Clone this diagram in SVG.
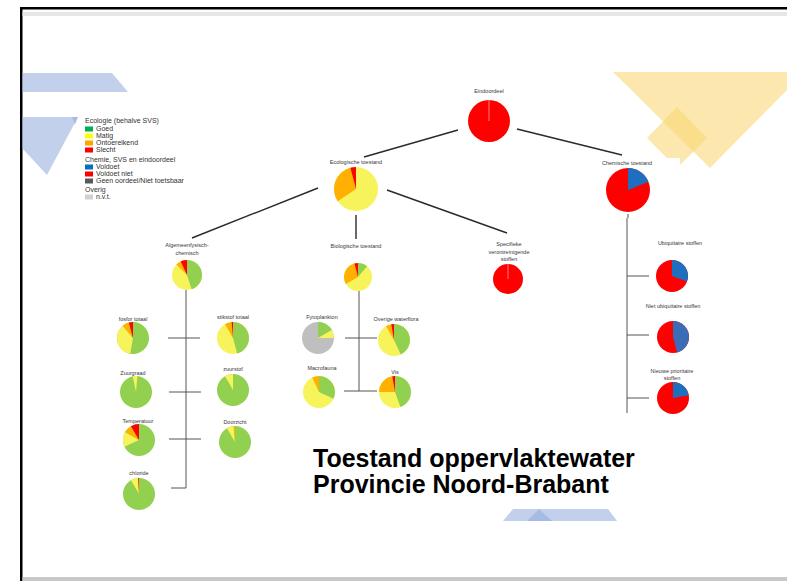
<svg xmlns="http://www.w3.org/2000/svg" width="787" height="581" viewBox="0 0 787 581">
<style>
.lbl{font-family:"Liberation Sans",Arial,sans-serif;font-size:5.5px;fill:#383838;text-anchor:middle}
.leg{font-family:"Liberation Sans",Arial,sans-serif;font-size:7px;fill:#333}
.title{font-family:"Liberation Sans",Arial,sans-serif;font-size:25px;font-weight:bold;fill:#000}
.diag{stroke:#2a2a2a;stroke-width:1.4;fill:none}
.tree{stroke:#555;stroke-width:1;fill:none}
.g{fill:#92D050}.y{fill:#F7F35A}.o{fill:#FFB000}.r{fill:#FF0000}.b{fill:#1F6FC0}.gr{fill:#BFBFBF}
.sep{stroke:#F7B6B6;stroke-width:0.7}
.bl{fill:#8FA9DC;opacity:0.55}.ye{fill:#F9D56E;opacity:0.55}
</style>
<rect width="787" height="581" fill="#fff"/>
<!-- frame -->
<rect x="20" y="7" width="767" height="2.5" fill="#000"/>
<rect x="20" y="7" width="2.5" height="574" fill="#000"/>
<rect x="22.5" y="12" width="764.5" height="4" fill="#E6E6E6"/>
<rect x="22.5" y="577" width="764.5" height="4" fill="#C8C8C8"/>
<!-- decorations -->
<polygon class="bl" points="22,73 112,73 128,92 22,92"/>
<polygon class="bl" points="22,117 78,117 47,175 22,148"/>
<polygon class="bl" points="72,117 78,117 75,125"/>
<polygon class="ye" points="613,72 787,72 787,90 710,168"/>
<polygon class="ye" points="677,107 707,138 680,165 680,158 667,158 647,138"/>
<polygon class="bl" points="503,521 513,509 608,509 617,521"/>
<polygon class="bl" points="527,521 539,509 552,521"/>
<!-- legend -->
<g id="legend">
<text class="leg" x="85" y="123">Ecologie (behalve SVS)</text>
<rect x="85" y="126.5" width="8" height="5" fill="#00B050"/><text class="leg" x="96" y="131">Goed</text>
<rect x="85" y="133.5" width="8" height="5" fill="#FFFF00"/><text class="leg" x="96" y="138">Matig</text>
<rect x="85" y="140.5" width="8" height="5" fill="#FFA500"/><text class="leg" x="96" y="145">Ontoereikend</text>
<rect x="85" y="147.5" width="8" height="5" fill="#FF0000"/><text class="leg" x="96" y="152">Slecht</text>
<text class="leg" x="85" y="161.5">Chemie, SVS en eindoordeel</text>
<rect x="85" y="164.5" width="8" height="5" fill="#0070C0"/><text class="leg" x="96" y="169">Voldoet</text>
<rect x="85" y="171.5" width="8" height="5" fill="#FF0000"/><text class="leg" x="96" y="176">Voldoet niet</text>
<rect x="85" y="178.5" width="8" height="5" fill="#595959"/><text class="leg" x="96" y="183">Geen oordeel/Niet toetsbaar</text>
<text class="leg" x="85" y="191.5">Overig</text>
<rect x="85" y="194.5" width="8" height="5" fill="#D0D0D0"/><text class="leg" x="96" y="199">n.v.t.</text>
</g>
<!-- connectors -->
<g id="connectors">
<line class="diag" x1="458" y1="130" x2="364" y2="157"/>
<line class="diag" x1="517" y1="129" x2="622" y2="155"/>
<line class="diag" x1="318" y1="188" x2="192" y2="238"/>
<line class="diag" x1="387" y1="190" x2="507" y2="233"/>
<line class="diag" x1="356" y1="215" x2="356" y2="239"/>
<path class="tree" d="M186 290V488H171M168 338H200M169 392H201M169 439H201"/>
<path class="tree" d="M359 291V391H344M345 338H377M359 391H377"/>
<path class="tree" d="M628 214V218M627 218V413M627 276H649M627 335H649M627 398H649"/>
</g>
<!-- nodes -->
<g id="eindoordeel">
<text class="lbl" x="489" y="93">Eindoordeel</text>
<circle class="r" cx="489" cy="121" r="21"/>
<line class="sep" x1="489" y1="100" x2="489" y2="121"/>
</g>
<g id="ecologische">
<text class="lbl" x="356" y="164">Ecologische toestand</text>
<circle class="y" cx="356" cy="189" r="22"/>
<path class="o" d="M356 189L337.76 201.3A22 22 0 0 1 350.31 167.75Z"/>
<path class="r" d="M356 189L350.31 167.75A22 22 0 0 1 356 167Z"/>
</g>
<g id="chemische">
<text class="lbl" x="627" y="165">Chemische toestand</text>
<circle class="r" cx="628" cy="190" r="22"/>
<path class="b" d="M628 190L628 168A22 22 0 0 1 648.4 181.76Z"/>
</g>
<g id="algemeen">
<text class="lbl" x="187" y="247">Algemeenfysisch-</text>
<text class="lbl" x="187" y="255">chemisch</text>
<circle class="y" cx="187" cy="275" r="15"/>
<path class="g" d="M187 275L187 260A15 15 0 0 1 191.64 289.27Z"/>
<path class="o" d="M187 275L176.39 264.39A15 15 0 0 1 180.66 261.41Z"/>
<path class="r" d="M187 275L180.66 261.41A15 15 0 0 1 187 260Z"/>
</g>
<g id="fosfor">
<text class="lbl" x="133" y="321">fosfor totaal</text>
<circle class="g" cx="133" cy="338" r="16"/>
<path class="y" d="M133 338L130.22 353.76A16 16 0 0 1 122.72 325.74Z"/>
<path class="o" d="M133 338L122.72 325.74A16 16 0 0 1 128.86 322.55Z"/>
<path class="r" d="M133 338L128.86 322.55A16 16 0 0 1 133 322Z"/>
</g>
<g id="stikstof">
<text class="lbl" x="233" y="319">stikstof totaal</text>
<circle class="y" cx="233" cy="338" r="16"/>
<path class="g" d="M233 338L233 322A16 16 0 0 1 237.14 353.45Z"/>
<path class="o" d="M233 338L225 324.14A16 16 0 0 1 231.6 322.06Z"/>
<path class="r" d="M233 338L231.6 322.06A16 16 0 0 1 233 322Z"/>
</g>
<g id="zuurgraad">
<text class="lbl" x="133" y="375">Zuurgraad</text>
<circle class="g" cx="136" cy="392" r="16"/>
<path class="y" d="M136 392L132.67 376.35A16 16 0 0 1 137.39 376.06Z"/>
</g>
<g id="zuurstof">
<text class="lbl" x="233" y="371">zuurstof</text>
<circle class="g" cx="233" cy="390" r="16"/>
<path class="y" d="M233 390L225 376.14A16 16 0 0 1 233 374Z"/>
</g>
<g id="temperatuur">
<text class="lbl" x="138" y="423">Temperatuur</text>
<circle class="g" cx="139" cy="440" r="16"/>
<path class="y" d="M139 440L124.5 446.76A16 16 0 0 1 125.14 432Z"/>
<path class="o" d="M139 440L125.14 432A16 16 0 0 1 131 426.14Z"/>
<path class="r" d="M139 440L131 426.14A16 16 0 0 1 139 424Z"/>
</g>
<g id="doorzicht">
<text class="lbl" x="235" y="424">Doorzicht</text>
<circle class="g" cx="235" cy="442" r="16"/>
<path class="y" d="M235 442L227 428.14A16 16 0 0 1 233.6 426.06Z"/>
<path class="o" d="M235 442L233.6 426.06A16 16 0 0 1 235 426Z"/>
</g>
<g id="chloride">
<text class="lbl" x="139" y="475">chloride</text>
<circle class="g" cx="139" cy="494" r="16"/>
<path class="y" d="M139 494L131 480.14A16 16 0 0 1 138.16 478.02Z"/>
<path class="r" d="M139 494L138.16 478.02A16 16 0 0 1 139 478Z"/>
</g>
<g id="biologische">
<text class="lbl" x="356" y="248">Biologische toestand</text>
<circle class="y" cx="358" cy="277" r="14"/>
<path class="g" d="M358 277L358 263A14 14 0 0 1 367 266.28Z"/>
<path class="o" d="M358 277L345.88 284A14 14 0 0 1 354.38 263.48Z"/>
<path class="r" d="M358 277L354.38 263.48A14 14 0 0 1 358 263Z"/>
</g>
<g id="fytoplankton">
<text class="lbl" x="322" y="319">Fytoplankton</text>
<circle class="gr" cx="318" cy="338" r="16"/>
<path class="g" d="M318 338L318 322A16 16 0 0 1 331.86 330Z"/>
<path class="y" d="M318 338L331.86 330A16 16 0 0 1 334 338Z"/>
</g>
<g id="overige">
<text class="lbl" x="396" y="321">Overige waterflora</text>
<circle class="y" cx="394" cy="340" r="16"/>
<path class="g" d="M394 340L394 324A16 16 0 0 1 400.76 354.5Z"/>
<path class="o" d="M394 340L386 326.14A16 16 0 0 1 391.22 324.24Z"/>
<path class="r" d="M394 340L391.22 324.24A16 16 0 0 1 394 324Z"/>
</g>
<g id="macrofauna">
<text class="lbl" x="322" y="370">Macrofauna</text>
<circle class="y" cx="319" cy="392" r="16"/>
<path class="g" d="M319 392L319 376A16 16 0 0 1 333.5 398.76Z"/>
<path class="o" d="M319 392L312.24 377.5A16 16 0 0 1 319 376Z"/>
</g>
<g id="vis">
<text class="lbl" x="395" y="374">Vis</text>
<circle class="y" cx="395" cy="392" r="16"/>
<path class="g" d="M395 392L395 376A16 16 0 0 1 400.47 407.04Z"/>
<path class="o" d="M395 392L379 392A16 16 0 0 1 392.22 376.24Z"/>
<path class="r" d="M395 392L392.22 376.24A16 16 0 0 1 395 376Z"/>
</g>
<g id="specifieke">
<text class="lbl" x="509" y="246">Specifieke</text>
<text class="lbl" x="509" y="254">verontreinigende</text>
<text class="lbl" x="509" y="261">stoffen</text>
<circle class="r" cx="508" cy="279" r="15"/>
<line class="sep" x1="508" y1="264" x2="508" y2="279"/>
</g>
<g id="ubiquitaire">
<text class="lbl" x="680" y="245">Ubiquitaire stoffen</text>
<circle class="r" cx="672" cy="276" r="16"/>
<path class="b" d="M672 276L672 260A16 16 0 0 1 687.04 281.47Z"/>
</g>
<g id="niet-ubiquitaire">
<text class="lbl" x="673" y="308">Niet ubiquitaire stoffen</text>
<circle class="r" cx="673" cy="337" r="16"/>
<path d="M673 337L673 321A16 16 0 0 1 677.14 352.45Z" fill="#3A6DB5"/>
</g>
<g id="nieuwe">
<text class="lbl" x="672" y="373">Nieuwe prioritaire</text>
<text class="lbl" x="672" y="380">stoffen</text>
<circle class="r" cx="673" cy="398" r="16"/>
<path class="b" d="M673 398L673 382A16 16 0 0 1 688.76 395.22Z"/>
</g>
<g id="title">
<text class="title" x="313" y="467">Toestand oppervlaktewater</text>
<text class="title" x="313" y="493">Provincie Noord-Brabant</text>
</g>
</svg>
